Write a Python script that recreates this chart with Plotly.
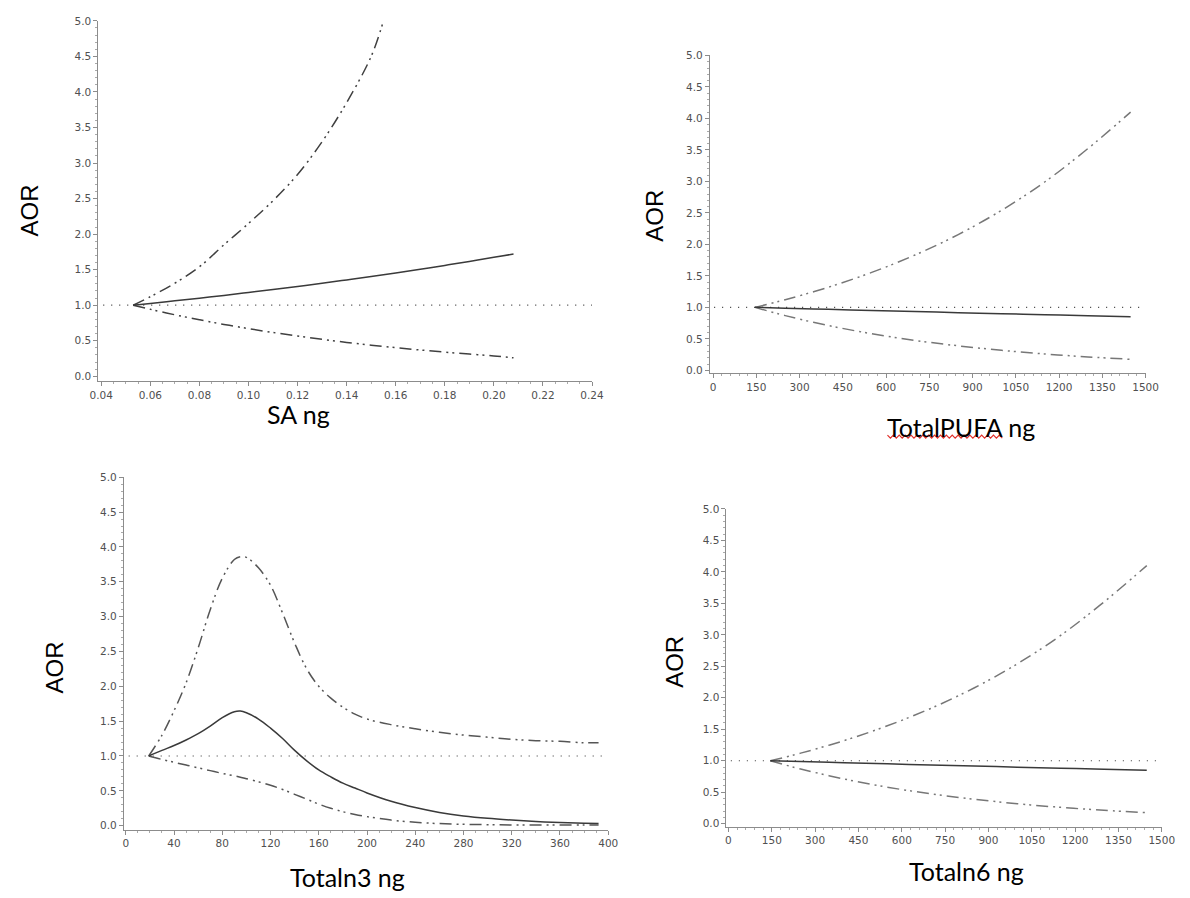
import plotly.graph_objects as go

W, H = 1190, 898

# ---------------- data ----------------
# Panel 1: SA ng
sa_x = [0.053, 0.06, 0.07, 0.08, 0.09, 0.10, 0.11, 0.12, 0.13, 0.14, 0.15, 0.16, 0.17, 0.18, 0.19, 0.20, 0.208]
sa_aor = [1.0, 1.025, 1.061, 1.099, 1.138, 1.179, 1.221, 1.264, 1.309, 1.356, 1.404, 1.454, 1.506, 1.560, 1.615, 1.673, 1.72]
sa_lower = [1.0, 0.942, 0.865, 0.795, 0.730, 0.671, 0.616, 0.566, 0.520, 0.477, 0.438, 0.403, 0.370, 0.340, 0.312, 0.287, 0.26]
sa_upper_x = [0.053, 0.06, 0.07, 0.08, 0.09, 0.10, 0.11, 0.12, 0.13, 0.14, 0.15, 0.155]
sa_upper = [1.0, 1.12, 1.31, 1.54, 1.85, 2.15, 2.47, 2.84, 3.30, 3.85, 4.50, 5.0]

# Panel 2: TotalPUFA ng
pufa_x = [145, 250, 400, 550, 700, 850, 1000, 1150, 1300, 1448]
pufa_aor = [1.0, 0.987, 0.969, 0.951, 0.934, 0.916, 0.899, 0.883, 0.867, 0.851]
pufa_upper = [1.0, 1.121, 1.320, 1.555, 1.831, 2.156, 2.540, 2.991, 3.522, 4.10]
pufa_lower = [1.0, 0.869, 0.711, 0.581, 0.475, 0.389, 0.318, 0.260, 0.213, 0.175]

# Panel 3: Totaln3 ng
n3_x = [19, 30, 40, 50, 60, 70, 80, 90, 95, 100, 110, 120, 130, 140, 150, 160, 170, 180, 190, 200,
        220, 240, 260, 280, 300, 320, 340, 360, 380, 392]
n3_aor = [1.00, 1.08, 1.15, 1.23, 1.32, 1.43, 1.55, 1.635, 1.645, 1.62, 1.53, 1.40, 1.25, 1.08, 0.93, 0.80,
          0.70, 0.61, 0.54, 0.47, 0.35, 0.26, 0.19, 0.14, 0.105, 0.08, 0.06, 0.045, 0.035, 0.03]
n3_upper = [1.00, 1.30, 1.65, 2.05, 2.55, 3.10, 3.55, 3.82, 3.86, 3.85, 3.70, 3.45, 3.05, 2.62, 2.25, 2.00,
            1.83, 1.70, 1.60, 1.53, 1.45, 1.39, 1.34, 1.30, 1.27, 1.24, 1.22, 1.21, 1.19, 1.19]
n3_lower = [1.00, 0.95, 0.91, 0.87, 0.83, 0.79, 0.75, 0.715, 0.695, 0.675, 0.63, 0.58, 0.52, 0.45, 0.38, 0.31,
            0.25, 0.20, 0.16, 0.13, 0.08, 0.05, 0.03, 0.02, 0.015, 0.01, 0.01, 0.01, 0.01, 0.01]

# Panel 4: Totaln6 ng
n6_x = [145, 250, 400, 550, 700, 850, 1000, 1150, 1300, 1448]
n6_aor = [1.0, 0.987, 0.969, 0.951, 0.934, 0.916, 0.899, 0.883, 0.867, 0.851]
n6_upper = [1.0, 1.121, 1.320, 1.555, 1.831, 2.156, 2.540, 2.991, 3.522, 4.10]
n6_lower = [1.0, 0.869, 0.711, 0.581, 0.475, 0.389, 0.318, 0.260, 0.213, 0.175]

REF_AOR = 1.0
y_ticks = [0.0, 0.5, 1.0, 1.5, 2.0, 2.5, 3.0, 3.5, 4.0, 4.5, 5.0]
x_titles = ["SA ng", "TotalPUFA ng", "Totaln3 ng", "Totaln6 ng"]
y_title = "AOR"

# ---------------- layout geometry (pixels) ----------------
panels = [
    dict(px=(91, 594), py=(379, 15), xr=[0.0388, 0.24], yr=[-0.069, 5.0], dtick=0.02, minor=0.005, fmt=".2f",
         tick0=0.04, aor=(21, 207), title=(295, 412)),
    dict(px=(714, 1158), py=(371, 50), xr=[-11.6, 1500], yr=[-0.047, 5.0], dtick=150, minor=30, fmt="d",
         tick0=0, aor=(658, 212), title=(970, 425)),
    dict(px=(117, 610.5), py=(832, 476), xr=[-1.63, 400], yr=[-0.057, 5.0], dtick=40, minor=10, fmt="d",
         tick0=0, aor=(46, 668), title=(345, 880)),
    dict(px=(731, 1174.5), py=(829, 508), xr=[-6.8, 1500], yr=[-0.047, 5.0], dtick=150, minor=30, fmt="d",
         tick0=0, aor=(678, 662), title=(976, 874)),
]

series = [
    (sa_x, sa_aor, sa_upper_x, sa_upper, sa_x, sa_lower, "#404040"),
    (pufa_x, pufa_aor, pufa_x, pufa_upper, pufa_x, pufa_lower, "#777777"),
    (n3_x, n3_aor, n3_x, n3_upper, n3_x, n3_lower, "#555555"),
    (n6_x, n6_aor, n6_x, n6_upper, n6_x, n6_lower, "#777777"),
]

CI_DASH = "12px,5px,2px,4px,2px,5px"
tick_font = dict(family="DejaVu Sans", size=10.5, color="#505050")

fig = go.Figure()
layout = dict(width=W, height=H, margin=dict(l=0, r=0, t=0, b=0),
              paper_bgcolor="white", plot_bgcolor="white", showlegend=False)
annotations = []
shapes = []

for i, (p, s) in enumerate(zip(panels, series)):
    k = "" if i == 0 else str(i + 1)
    xa, ya = "x" + k, "y" + k
    xd = [p["px"][0] / W, p["px"][1] / W]
    yd = [1 - p["py"][0] / H, 1 - p["py"][1] / H]
    axis_common = dict(showline=True, linecolor="#8c8c8c", linewidth=1, showgrid=False, zeroline=False,
                       ticks="outside", ticklen=4, tickcolor="#8c8c8c", tickfont=tick_font, fixedrange=True)
    layout["xaxis" + k] = dict(domain=xd, range=p["xr"], anchor=ya, tick0=p["tick0"], dtick=p["dtick"],
                               tickformat=p["fmt"],
                               minor=dict(ticks="outside", ticklen=2, tickcolor="#aaaaaa", dtick=p["minor"],
                                          tick0=p["tick0"]),
                               **axis_common)
    layout["yaxis" + k] = dict(domain=yd, range=p["yr"], anchor=xa, tickvals=y_ticks, tickformat=".1f",
                               minor=dict(ticks="outside", ticklen=2, tickcolor="#aaaaaa", dtick=0.1, tick0=0),
                               **axis_common)
    x, aor, ux, up, lx, lo, ci_col = s
    fig.add_trace(go.Scatter(x=ux, y=up, mode="lines", xaxis=xa, yaxis=ya, line_shape="spline",
                             hoverinfo="skip", line=dict(color=ci_col, width=1.5, dash=CI_DASH)))
    fig.add_trace(go.Scatter(x=lx, y=lo, mode="lines", xaxis=xa, yaxis=ya, line_shape="spline",
                             hoverinfo="skip", line=dict(color=ci_col, width=1.5, dash=CI_DASH)))
    fig.add_trace(go.Scatter(x=x, y=aor, mode="lines", xaxis=xa, yaxis=ya, line_shape="spline",
                             hoverinfo="skip", line=dict(color="#3a3a3a", width=1.5)))
    shapes.append(dict(type="line", xref=xa + " domain", yref=ya, x0=0.01, x1=1.0, y0=REF_AOR, y1=REF_AOR,
                       line=dict(color="#333333", width=1.2, dash="1px,7px")))
    annotations.append(dict(text=y_title, x=p["aor"][0] / W, y=1 - p["aor"][1] / H, xref="paper", yref="paper",
                            showarrow=False, textangle=-90, xanchor="center", yanchor="middle",
                            font=dict(family="Liberation Sans", size=24, color="black")))
    annotations.append(dict(text=x_titles[i], x=p["title"][0] / W, y=1 - p["title"][1] / H, xref="paper",
                            yref="paper", showarrow=False, xanchor="center", yanchor="middle",
                            font=dict(family="Lato", size=25, color="black")))

# red spell-check squiggle under "TotalPUFA"
zx0, zx1, zy = 895, 1014, 435
pts = []
step = 3
xx = zx0
up_flag = True
while xx <= zx1:
    pts.append((xx / W, 1 - (zy + (-1.5 if up_flag else 1.5)) / H))
    up_flag = not up_flag
    xx += step
path = "M " + " L ".join(f"{a:.5f},{b:.5f}" for a, b in pts)
shapes.append(dict(type="path", xref="paper", yref="paper", path=path, line=dict(color="#e0302a", width=1.2)))

layout["annotations"] = annotations
layout["shapes"] = shapes
fig.update_layout(**layout)
fig.write_html("out.html", config={"displayModeBar": False, "staticPlot": True},
               post_script="document.body.style.margin='0';document.body.style.overflow='hidden';")
